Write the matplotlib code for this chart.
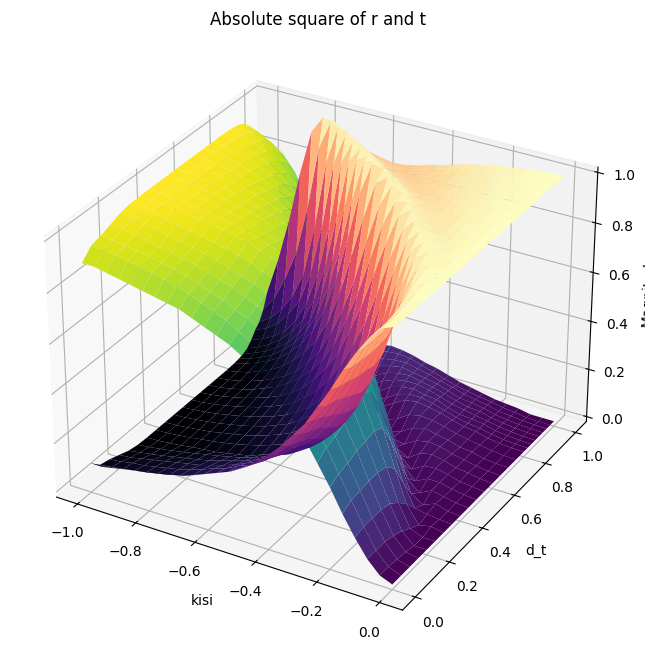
import numpy as np
import matplotlib
matplotlib.use("Agg")
import matplotlib.pyplot as plt

kisi = [-1.0,-0.96,-0.92,-0.88,-0.84,-0.8,-0.76,-0.72,-0.68,-0.64,-0.6,-0.56,-0.52,-0.48,-0.44,-0.4,-0.36,-0.32,-0.28,-0.24,-0.2,-0.16,-0.12,-0.08,-0.04,0.0]
d_t = [0.0,0.05,0.1,0.15,0.2,0.25,0.3,0.35,0.4,0.45,0.5,0.55,0.6,0.65,0.7,0.75,0.8,0.825,0.85,0.875,0.9,0.925,0.95,0.975,1.0]

t_sq = [
[.10,.10,.11,.12,.13,.14,.15,.16,.17,.19,.21,.23,.25,.28,.32,.36,.41,.47,.53,.61,.69,.78,.86,.93,.98,1.0],
[.06,.066,.073,.082,.09,.10,.11,.125,.14,.16,.18,.20,.23,.26,.29,.33,.38,.44,.51,.58,.67,.76,.85,.93,.98,1.0],
[.05,.055,.065,.07,.08,.09,.10,.115,.13,.15,.165,.19,.21,.24,.275,.32,.36,.42,.49,.57,.66,.755,.85,.93,.985,1.0],
[.035,.04,.05,.06,.07,.08,.09,.10,.115,.13,.147,.17,.19,.22,.25,.29,.34,.40,.465,.55,.645,.75,.85,.94,.99,1.0],
[.02,.028,.036,.045,.055,.065,.075,.085,.10,.115,.13,.15,.17,.20,.23,.27,.31,.37,.44,.53,.64,.75,.86,.955,1.0,1.0],
[.012,.018,.025,.033,.042,.052,.062,.072,.083,.095,.11,.13,.15,.17,.20,.24,.28,.34,.42,.51,.63,.76,.89,.98,1.0,1.0],
[.01,.012,.017,.022,.03,.035,.04,.05,.06,.07,.09,.105,.125,.15,.18,.22,.27,.33,.41,.52,.65,.80,.93,1.0,.99,1.0],
[.01,.012,.017,.023,.03,.037,.045,.055,.067,.08,.097,.115,.14,.17,.20,.25,.30,.38,.48,.60,.74,.89,.98,.99,.995,1.0],
[.01,.013,.018,.024,.03,.04,.05,.06,.073,.09,.108,.13,.16,.195,.24,.29,.36,.45,.57,.71,.85,.97,1.0,.98,.995,1.0],
[.01,.013,.019,.025,.033,.043,.053,.066,.08,.10,.12,.15,.185,.23,.28,.35,.44,.55,.68,.83,.955,1.0,.975,.985,.995,1.0],
[.01,.014,.02,.027,.037,.047,.06,.075,.09,.11,.14,.17,.22,.28,.34,.43,.54,.68,.82,.95,1.0,.975,.975,.987,.995,1.0],
[.01,.014,.021,.03,.04,.053,.067,.085,.105,.13,.17,.21,.27,.345,.435,.545,.68,.83,.955,1.0,.97,.965,.975,.99,.995,1.0],
[.01,.015,.023,.033,.045,.06,.077,.097,.125,.16,.21,.27,.34,.45,.57,.71,.85,.97,1.0,.965,.955,.965,.98,.987,.995,1.0],
[.01,.015,.024,.036,.05,.07,.09,.12,.155,.20,.26,.34,.45,.58,.73,.88,.98,.99,.96,.95,.955,.97,.98,.99,.997,1.0],
[.01,.016,.026,.04,.057,.08,.105,.14,.19,.25,.34,.45,.59,.76,.91,1.0,.985,.955,.94,.95,.96,.975,.98,.993,.998,1.0],
[.01,.02,.032,.05,.072,.10,.14,.19,.25,.34,.47,.64,.81,.96,.995,.978,.945,.935,.94,.95,.965,.975,.983,.992,.998,1.0],
[.012,.025,.042,.065,.09,.13,.18,.25,.35,.49,.675,.87,.996,.987,.958,.93,.923,.93,.94,.955,.968,.974,.987,.994,.998,1.0],
[.015,.03,.05,.075,.11,.155,.215,.30,.43,.606,.819,.985,.99,.966,.935,.92,.92,.93,.945,.96,.97,.976,.987,.994,.998,1.0],
[.02,.04,.06,.09,.125,.18,.25,.37,.54,.76,.96,.99,.97,.935,.92,.914,.925,.93,.95,.964,.968,.975,.988,.994,.998,1.0],
[.03,.05,.075,.11,.155,.22,.32,.475,.695,.93,.995,.97,.94,.92,.91,.91,.92,.935,.95,.96,.97,.978,.988,.994,.998,1.0],
[.05,.07,.095,.13,.19,.28,.42,.63,.90,.995,.98,.947,.92,.907,.903,.915,.923,.937,.951,.964,.968,.98,.988,.994,.998,1.0],
[.08,.10,.135,.19,.26,.39,.60,.87,.997,.98,.953,.92,.906,.897,.906,.915,.925,.94,.957,.962,.97,.983,.99,.995,.998,1.0],
[.10,.13,.18,.25,.36,.57,.85,.998,.985,.955,.92,.905,.896,.894,.905,.915,.928,.94,.955,.964,.973,.985,.99,.995,.998,1.0],
[.14,.20,.30,.42,.62,.88,.995,.975,.95,.915,.90,.89,.885,.89,.905,.92,.935,.95,.96,.968,.975,.985,.99,.998,1.0,1.0],
[.20,.35,.53,.74,.92,.99,.985,.96,.925,.90,.89,.88,.885,.895,.91,.92,.935,.95,.96,.97,.98,.985,.99,1.0,1.0,1.0],
]

r_sq = [
[.90,.90,.89,.88,.87,.86,.85,.84,.83,.81,.79,.77,.75,.72,.68,.64,.59,.53,.47,.39,.31,.22,.14,.07,.02,.00],
[.94,.934,.927,.918,.91,.90,.89,.875,.86,.84,.82,.80,.77,.74,.71,.67,.62,.56,.49,.42,.33,.24,.15,.07,.02,.00],
[.95,.945,.935,.93,.92,.91,.90,.885,.87,.85,.835,.81,.79,.76,.725,.68,.64,.58,.51,.43,.34,.245,.15,.07,.015,.00],
[.965,.96,.95,.94,.93,.92,.91,.90,.885,.87,.853,.83,.81,.78,.75,.71,.66,.60,.535,.45,.355,.25,.15,.06,.01,.00],
[.98,.972,.964,.955,.945,.935,.925,.915,.90,.885,.87,.85,.83,.80,.77,.73,.69,.63,.56,.47,.36,.25,.14,.045,.00,.00],
[.988,.982,.975,.967,.958,.948,.938,.928,.917,.905,.89,.87,.85,.83,.80,.76,.72,.66,.58,.49,.37,.24,.11,.02,.00,.00],
[.99,.988,.983,.978,.97,.965,.96,.95,.94,.93,.91,.895,.875,.85,.82,.78,.73,.67,.59,.48,.35,.20,.07,.00,.01,.00],
[.99,.988,.983,.977,.97,.963,.955,.945,.933,.92,.903,.885,.86,.83,.80,.75,.70,.62,.52,.40,.26,.11,.02,.01,.005,.00],
[.99,.987,.982,.976,.97,.96,.95,.94,.927,.91,.892,.87,.84,.805,.76,.71,.64,.55,.43,.29,.15,.03,.00,.02,.005,.00],
[.99,.987,.981,.975,.967,.957,.947,.934,.92,.90,.88,.85,.815,.77,.72,.65,.56,.45,.32,.17,.045,.00,.025,.015,.005,.00],
[.99,.986,.98,.973,.963,.953,.94,.925,.91,.89,.86,.83,.78,.72,.66,.57,.46,.32,.18,.05,.00,.025,.025,.013,.005,.00],
[.99,.986,.979,.97,.96,.947,.933,.915,.895,.87,.83,.79,.73,.655,.565,.455,.32,.17,.045,.00,.03,.035,.025,.01,.005,.00],
[.99,.985,.977,.967,.955,.94,.923,.903,.875,.84,.79,.73,.66,.55,.43,.29,.15,.03,.00,.035,.045,.035,.02,.013,.005,.00],
[.99,.985,.976,.964,.95,.93,.91,.88,.845,.80,.74,.66,.55,.42,.27,.12,.02,.01,.04,.05,.045,.03,.02,.01,.003,.00],
[.99,.984,.974,.96,.943,.92,.895,.86,.81,.75,.66,.55,.41,.24,.09,.00,.015,.045,.06,.05,.04,.025,.02,.007,.002,.00],
[.99,.98,.968,.95,.928,.90,.86,.81,.75,.66,.53,.36,.19,.04,.005,.022,.055,.065,.06,.05,.035,.025,.017,.008,.002,.00],
[.988,.975,.958,.935,.91,.87,.82,.75,.65,.51,.325,.13,.004,.013,.042,.07,.077,.07,.06,.045,.032,.026,.013,.006,.002,.00],
[.985,.97,.95,.925,.89,.845,.785,.70,.57,.394,.181,.015,.01,.034,.065,.08,.08,.07,.055,.04,.03,.024,.013,.006,.002,.00],
[.98,.96,.94,.91,.875,.82,.75,.63,.46,.24,.04,.01,.03,.065,.08,.086,.075,.07,.05,.036,.032,.025,.012,.006,.002,.00],
[.97,.95,.925,.89,.845,.78,.68,.525,.305,.07,.005,.03,.06,.08,.09,.09,.08,.065,.05,.04,.03,.022,.012,.006,.002,.00],
[.95,.93,.905,.87,.81,.72,.58,.37,.10,.005,.02,.053,.08,.093,.097,.085,.077,.063,.049,.036,.032,.02,.012,.006,.002,.00],
[.92,.90,.865,.81,.74,.61,.40,.13,.003,.02,.047,.08,.094,.103,.094,.085,.075,.06,.043,.038,.03,.017,.01,.005,.002,.00],
[.90,.87,.82,.75,.64,.43,.15,.002,.015,.045,.08,.095,.104,.106,.095,.085,.072,.06,.045,.036,.027,.015,.01,.005,.002,.00],
[.86,.80,.70,.58,.38,.12,.005,.025,.05,.085,.10,.11,.115,.11,.095,.08,.065,.05,.04,.032,.025,.015,.01,.002,.00,.00],
[.80,.65,.47,.26,.08,.01,.015,.04,.075,.10,.11,.12,.115,.105,.09,.08,.065,.05,.04,.03,.02,.015,.01,.00,.00,.00],
]

K, D = np.meshgrid(kisi, d_t)
fig = plt.figure(figsize=(6.45, 6.58), dpi=100)
ax = fig.add_axes([8/645, 9/658, 620/645, 616/658], projection="3d")
ax.plot_surface(K, D, np.array(r_sq), cmap="viridis", rstride=1, cstride=1)
ax.plot_surface(K, D, np.array(t_sq), cmap="magma", rstride=1, cstride=1)
ax.set_xlabel("kisi")
ax.set_ylabel("d_t")
ax.set_zlabel("Magnitude")
ax.set_title("Absolute square of r and t")
fig.savefig("out.png", dpi=100)
